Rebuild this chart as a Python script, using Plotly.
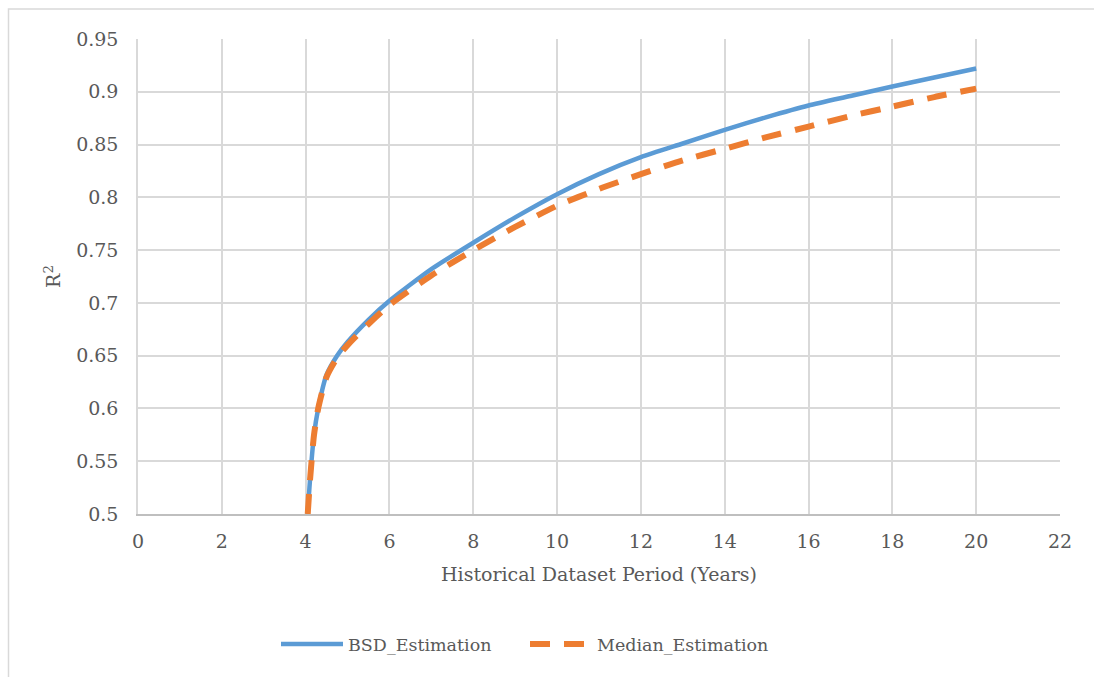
import plotly.graph_objects as go

years = [4.05, 4.1, 4.2, 4.3, 4.5, 4.75, 5, 5.5, 6, 7, 8, 9, 10, 11, 12, 13, 14, 15, 16, 17, 18, 19, 20]
bsd = [0.5, 0.53, 0.575, 0.6, 0.632, 0.65, 0.663, 0.684, 0.702, 0.732, 0.757, 0.781, 0.803,
       0.822, 0.838, 0.851, 0.864, 0.876, 0.887, 0.896, 0.905, 0.9135, 0.922]
median = [0.5, 0.53, 0.575, 0.6, 0.63, 0.648, 0.66, 0.68, 0.698, 0.726, 0.750, 0.772, 0.792,
          0.808, 0.822, 0.835, 0.846, 0.857, 0.867, 0.877, 0.886, 0.895, 0.903]

x_ticks = list(range(0, 23, 2))
y_ticks = [0.5, 0.55, 0.6, 0.65, 0.7, 0.75, 0.8, 0.85, 0.9, 0.95]
y_ticktext = ["0.5", "0.55", "0.6", "0.65", "0.7", "0.75", "0.8", "0.85", "0.9", "0.95"]

FONT = "DejaVu Serif"
TXT = "#595959"
GRID = "#d9d9d9"

fig = go.Figure()
fig.add_trace(go.Scatter(x=years, y=bsd, mode="lines", name="BSD_Estimation", legend="legend",
                         line=dict(color="#5b9bd5", width=4.5, shape="spline", smoothing=0.6)))
fig.add_trace(go.Scatter(x=years, y=median, mode="lines", name="Median_Estimation", legend="legend2",
                         line=dict(color="#ed7d31", width=6, shape="spline", smoothing=0.6,
                                   dash="20px,14px")))

W, H = 1094, 677
L, R, T, B = 138, 34, 39, 163
pw, ph = W - L - R, H - T - B

def px(xp):
    return (xp - L) / pw

def py(yp):
    return (H - B - yp) / ph

leg_common = dict(orientation="h", xanchor="left", y=py(644), yanchor="middle",
                  font=dict(family=FONT, size=17.5, color=TXT), itemwidth=62,
                  bgcolor="rgba(0,0,0,0)")

fig.update_layout(
    width=W, height=H,
    margin=dict(l=L, r=R, t=T, b=B, autoexpand=False),
    paper_bgcolor="white", plot_bgcolor="white",
    font=dict(family=FONT, size=19, color=TXT),
    showlegend=True,
    legend=dict(x=px(276), **leg_common),
    legend2=dict(x=px(525), **leg_common),
    xaxis=dict(range=[0, 22], tickvals=x_ticks, ticktext=[str(v) for v in x_ticks],
               showgrid=True, gridcolor=GRID, gridwidth=1.5, zeroline=False,
               showline=True, linecolor="#bfbfbf", linewidth=1.5,
               ticks="outside", ticklen=9, tickcolor="rgba(0,0,0,0)",
               tickfont=dict(family=FONT, size=19, color=TXT),
               title=dict(text="Historical Dataset Period (Years)", standoff=17,
                          font=dict(family=FONT, size=19, color=TXT))),
    yaxis=dict(range=[0.5, 0.95], tickvals=y_ticks, ticktext=y_ticktext,
               showgrid=True, gridcolor=GRID, gridwidth=1.5, zeroline=False,
               showline=True, linecolor=GRID, linewidth=1.5,
               ticks="outside", ticklen=14, tickcolor="rgba(0,0,0,0)",
               tickfont=dict(family=FONT, size=19, color=TXT),
               title=dict(text="R<sup>2</sup>", standoff=10,
                          font=dict(family=FONT, size=19, color=TXT))),
    shapes=[dict(type="rect", xref="paper", yref="paper",
                 x0=px(8.5), x1=px(1110), y0=py(700), y1=py(9),
                 line=dict(color=GRID, width=1.5), fillcolor="rgba(0,0,0,0)", layer="below")],
)

fig.write_html("out.html")
